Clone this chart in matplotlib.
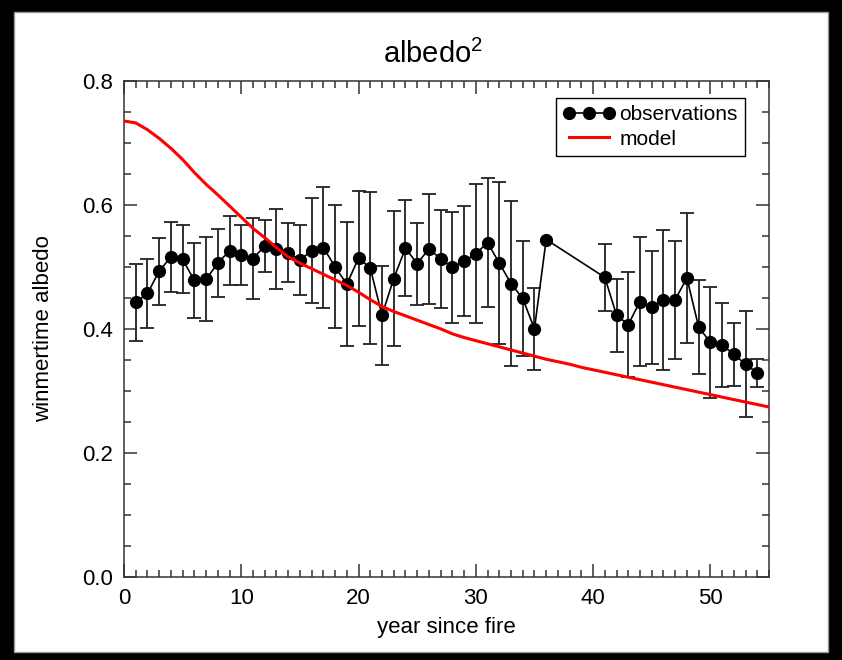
import numpy as np
import matplotlib.pyplot as plt
from matplotlib.patches import Rectangle

plt.rcParams['font.family'] = ['Liberation Sans', 'DejaVu Sans']
plt.rcParams['mathtext.fontset'] = 'custom'
plt.rcParams['mathtext.rm'] = 'Liberation Sans'

# === observations (winter albedo vs year since fire) ===
years = [1, 2, 3, 4, 5, 6, 7, 8, 9, 10, 11, 12, 13, 14, 15, 16, 17, 18,
         19, 20, 21, 22, 23, 24, 25, 26, 27, 28, 29, 30, 31, 32, 33, 34,
         35, 36, 41, 42, 43, 44, 45, 46, 47, 48, 49, 50, 51, 52, 53, 54]
albedo = [0.443, 0.457, 0.493, 0.516, 0.512, 0.478, 0.480, 0.506, 0.526,
          0.519, 0.513, 0.534, 0.529, 0.523, 0.511, 0.526, 0.531, 0.500,
          0.472, 0.514, 0.498, 0.422, 0.481, 0.530, 0.505, 0.529, 0.513,
          0.499, 0.509, 0.521, 0.539, 0.506, 0.473, 0.449, 0.400, 0.544,
          0.483, 0.422, 0.407, 0.444, 0.435, 0.446, 0.447, 0.482, 0.403,
          0.378, 0.374, 0.359, 0.343, 0.329]
# error (std), NaN = no error bar
err = [0.062, 0.056, 0.054, 0.057, 0.055, 0.060, 0.068, 0.055, 0.056,
       0.048, 0.065, 0.042, 0.064, 0.048, 0.056, 0.085, 0.097, 0.099,
       0.100, 0.109, 0.123, 0.080, 0.109, 0.077, 0.066, 0.089, 0.079,
       0.089, 0.089, 0.112, 0.104, 0.130, 0.133, 0.093, 0.066, np.nan,
       0.054, 0.059, 0.084, 0.104, 0.091, 0.113, 0.095, 0.105, 0.076,
       0.090, 0.067, 0.051, 0.085, 0.023]

# === model ===
model_years = list(range(0, 56))
model = [0.735, 0.732, 0.721, 0.707, 0.691, 0.673, 0.652, 0.633, 0.616,
         0.598, 0.580, 0.562, 0.547, 0.531, 0.516, 0.506, 0.497, 0.488,
         0.479, 0.470, 0.459, 0.447, 0.436, 0.428, 0.421, 0.414, 0.407,
         0.400, 0.392, 0.386, 0.381, 0.376, 0.371, 0.366, 0.361, 0.356,
         0.351, 0.347, 0.343, 0.338, 0.334, 0.330, 0.326, 0.322, 0.318,
         0.314, 0.310, 0.306, 0.302, 0.298, 0.294, 0.290, 0.286, 0.282,
         0.278, 0.274]

fig = plt.figure(figsize=(8.42, 6.6), dpi=100, facecolor='black')
# white panel inside black frame
fig.add_artist(Rectangle((14/842, 8/660), 1 - 28/842, 1 - 20/660,
                         transform=fig.transFigure, facecolor='white',
                         edgecolor='#999999', lw=1, zorder=-1))
ax = fig.add_axes([124/842, 83/660, 645/842, 496.3/660])

yrs = np.array(years)
alb = np.array(albedo)
e = np.array(err)
m = ~np.isnan(e)
ax.errorbar(yrs[m], alb[m], yerr=e[m], fmt='none', ecolor='#222222',
            elinewidth=1.3, capsize=5, capthick=1.3, zorder=2)
ax.plot(years, albedo, '-o', color='black', lw=1.2, ms=8.5,
        label='observations', zorder=3)
ax.plot(model_years, model, '-', color='red', lw=2.2, label='model', zorder=4)

ax.set_xlim(0, 55)
ax.set_ylim(0, 0.8)
ax.set_xticks([0, 10, 20, 30, 40, 50])
ax.set_xticks(np.arange(0, 56, 1), minor=True)
ax.set_yticks([0.0, 0.2, 0.4, 0.6, 0.8])
ax.set_yticklabels(['0.0', '0.2', '0.4', '0.6', '0.8'])
ax.set_yticks(np.arange(0, 0.81, 0.05), minor=True)
ax.tick_params(which='both', direction='in', top=True, right=True,
               labelsize=16, width=1.1, color='#333333')
ax.tick_params(which='major', length=9.5, pad=8)
ax.tick_params(which='minor', length=5)
for s in ax.spines.values():
    s.set_linewidth(1.1)
    s.set_color('#333333')

ax.set_xlabel('year since fire', fontsize=16, labelpad=6)
ax.set_ylabel('winmertime albedo', fontsize=16, labelpad=20)
ax.set_title(r'albedo$^\mathregular{2}$', fontsize=21, pad=13, x=0.479)

leg = ax.legend(loc='upper right', bbox_to_anchor=(0.963, 0.965),
                borderaxespad=0, fontsize=15, numpoints=3, fancybox=False,
                edgecolor='black', framealpha=1, handlelength=2.5,
                handletextpad=0.2, labelspacing=0.25, borderpad=0.35)
leg.get_frame().set_linewidth(1.0)

plt.savefig('out.png', dpi=100)
